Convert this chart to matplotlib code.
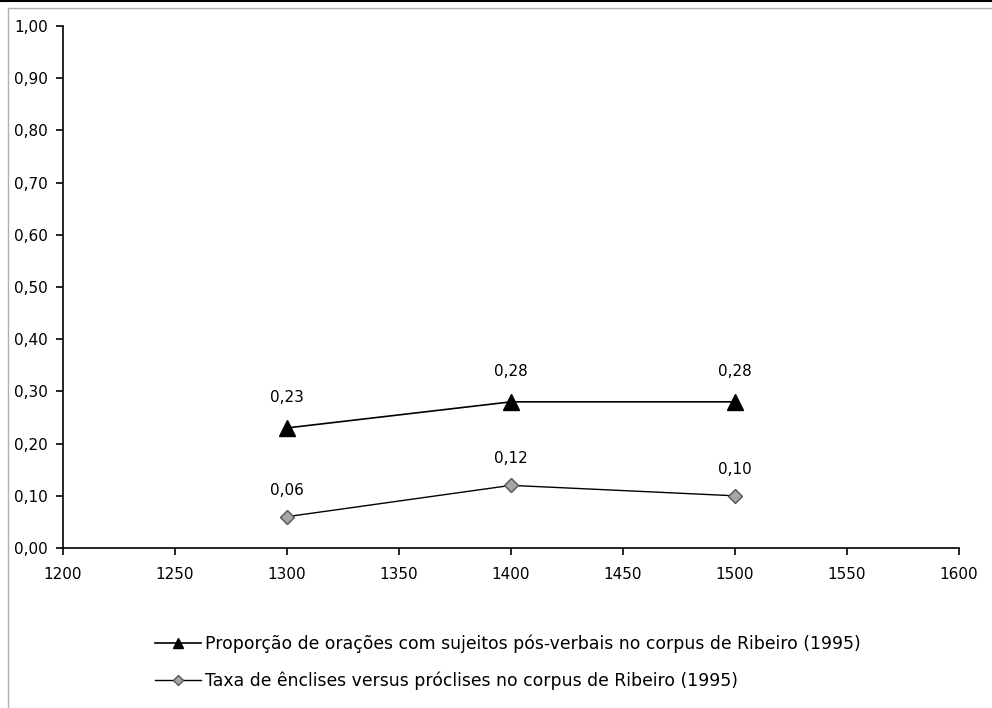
import matplotlib
matplotlib.use("Agg")
import matplotlib.pyplot as plt
from matplotlib.lines import Line2D

plt.rcParams['font.family'] = ['DejaVu Sans']

years = [1300, 1400, 1500]
posverbal = [0.23, 0.28, 0.28]
enclise = [0.06, 0.12, 0.10]
label_pos = "Proporção de orações com sujeitos pós-verbais no corpus de Ribeiro (1995)"
label_enc = "Taxa de ênclises versus próclises no corpus de Ribeiro (1995)"
xticks = [1200, 1250, 1300, 1350, 1400, 1450, 1500, 1550, 1600]
yticks = [0.0, 0.1, 0.2, 0.3, 0.4, 0.5, 0.6, 0.7, 0.8, 0.9, 1.0]

fig = plt.figure(figsize=(9.92, 7.08), dpi=100)
fig.patch.set_facecolor('white')
# outer frame
fig.add_artist(Line2D([0, 1], [1 - 0.5/708, 1 - 0.5/708], color='black', lw=1.5, transform=fig.transFigure))
fig.add_artist(Line2D([7.5/992, 7.5/992], [0, 1 - 8/708], color='#b0b0b0', lw=1, transform=fig.transFigure))
fig.add_artist(Line2D([7.5/992, 1], [1 - 8/708, 1 - 8/708], color='#b0b0b0', lw=1, transform=fig.transFigure))

ax = fig.add_axes([63/992, 1 - 548/708, (959 - 63)/992, (548 - 26)/708])
ax.plot(years, posverbal, color='black', lw=1.2, marker='^', markersize=11,
        markerfacecolor='black', markeredgecolor='black', label=label_pos, clip_on=False)
ax.plot(years, enclise, color='black', lw=1.0, marker='D', markersize=7.5,
        markerfacecolor='#a6a6a6', markeredgecolor='#555555', markeredgewidth=1.0,
        label=label_enc, clip_on=False)

def fmt(v):
    return f"{v:.2f}".replace('.', ',')

for x, y in zip(years, posverbal):
    ax.annotate(fmt(y), (x, y), xytext=(0, 22), textcoords='offset points',
                ha='center', va='center', fontsize=11)
for x, y in zip(years, enclise):
    ax.annotate(fmt(y), (x, y), xytext=(0, 19), textcoords='offset points',
                ha='center', va='center', fontsize=11)

ax.set_xlim(1200, 1600)
ax.set_ylim(0, 1.0)
ax.set_xticks(xticks)
ax.set_xticklabels([str(t) for t in xticks], fontsize=11)
ax.set_yticks(yticks)
ax.set_yticklabels([fmt(t) for t in yticks], fontsize=11)
for s in ['top', 'right']:
    ax.spines[s].set_visible(False)
for s in ['left', 'bottom']:
    ax.spines[s].set_linewidth(1.2)
ax.tick_params(direction='out', length=5, width=1.2)
ax.tick_params(axis='y', pad=6)
ax.tick_params(axis='x', pad=9)

leg = fig.legend(loc='center left', bbox_to_anchor=(155/992, 1 - 662/708), frameon=False,
                 fontsize=12.4, handlelength=2.65, handletextpad=0.25, labelspacing=1.05,
                 borderpad=0, borderaxespad=0, markerscale=0.65)

fig.savefig('out.png', dpi=100, facecolor='white')
